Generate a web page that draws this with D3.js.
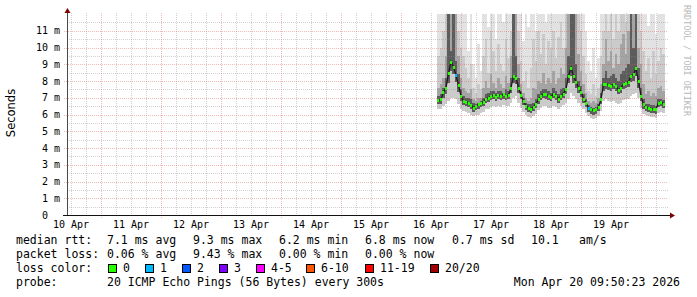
<!DOCTYPE html>
<html><head><meta charset="utf-8">
<script src="https://cdn.jsdelivr.net/npm/d3@7"></script>
<style>body{margin:0;background:#fff}svg{display:block}text{white-space:pre}</style>
</head><body><svg id="c" width="697" height="297"></svg>
<script>
// ---- data ----
const startTime = Date.UTC(2026, 3, 10, 10, 24);
const endTime   = Date.UTC(2026, 3, 20, 10, 24);
const dataStart = Date.UTC(2026, 3, 16, 15, 0);
const stepHours = 1;
const yTicks = [0,1,2,3,4,5,6,7,8,9,10,11];
const yTickLabels = ["0  ","1 m","2 m","3 m","4 m","5 m","6 m","7 m","8 m","9 m","10 m","11 m"];
const dayLabels = ["10 Apr","11 Apr","12 Apr","13 Apr","14 Apr","15 Apr","16 Apr","17 Apr","18 Apr","19 Apr"];
// median rtt (ms)
const median = [
 6.85,6.9,7.35,7.6,8.45,9.15,8.85,8.35,7.75,7.1,
 6.8,6.75,6.7,6.55,6.4,6.5,6.6,6.7,6.75,6.95,
 7.0,7.1,7.15,7.05,7.15,7.1,7.2,7.1,7.15,7.6,
 8.3,8.2,7.6,7.15,6.8,6.5,6.4,6.35,6.45,6.65,
 6.9,7.1,7.25,7.2,7.1,7.05,7.25,7.1,6.95,7.1,
 7.25,7.5,8.3,8.8,8.3,7.95,7.6,7.35,6.95,6.7,
 6.4,6.3,6.25,6.3,6.45,6.9,7.8,7.85,7.75,7.7,
 7.8,7.7,7.45,7.6,7.8,7.9,7.95,8.3,8.4,8.75,
 8.0,7.1,6.6,6.45,6.4,6.35,6.35,6.3,6.7,6.75,
 6.65];
// lost pings out of 20
const lost = [
 0,0,0,0,0,0,0,1,0,0, 0,0,0,0,0,0,0,0,0,0, 0,0,0,0,0,0,0,0,0,0,
 0,0,0,0,0,0,0,0,0,0, 0,0,0,0,0,0,0,0,0,0, 0,0,0,0,0,0,0,0,0,0,
 1,0,0,0,0,0,0,0,0,0, 0,0,0,0,0,0,0,0,0,0, 0,0,0,0,0,0,0,0,0,0, 0];
// smoke: ping distribution (ms)
const smokeMin = [
 6.3,6.35,6.5,6.6,6.8,7.0,7.0,6.9,6.6,6.3,
 6.2,6.15,6.1,6.0,5.9,5.95,6.0,6.1,6.15,6.3,
 6.35,6.45,6.5,6.45,6.5,6.45,6.55,6.5,6.5,6.7,
 7.0,7.1,6.7,6.4,6.15,5.95,5.85,5.8,5.9,6.05,
 6.25,6.4,6.5,6.5,6.4,6.4,6.5,6.45,6.35,6.45,
 6.55,6.7,6.9,7.3,7.1,6.9,6.7,6.5,6.3,6.1,
 5.9,5.8,5.75,5.8,5.9,6.2,6.8,6.9,6.8,6.75,
 6.8,6.7,6.6,6.7,6.85,6.9,6.95,7.1,7.2,7.3,
 7.0,6.4,6.05,5.95,5.9,5.85,5.85,5.8,6.1,6.15,
 6.1];
const smokeLow = [
 6.6,6.65,7.0,7.2,7.9,8.6,8.4,7.95,7.35,6.8,
 6.55,6.5,6.45,6.3,6.15,6.25,6.35,6.45,6.5,6.7,
 6.75,6.85,6.9,6.8,6.9,6.85,6.95,6.85,6.9,7.3,
 7.9,7.85,7.3,6.9,6.55,6.25,6.15,6.1,6.2,6.4,
 6.65,6.85,7.0,6.95,6.85,6.8,7.0,6.85,6.7,6.85,
 7.0,7.25,7.9,8.3,7.9,7.6,7.3,7.05,6.7,6.45,
 6.15,6.05,6.0,6.05,6.2,6.6,7.4,7.5,7.45,7.4,
 7.5,7.4,7.2,7.3,7.5,7.6,7.65,7.95,8.0,8.3,
 7.6,6.8,6.35,6.2,6.15,6.1,6.1,6.05,6.45,6.5,
 6.4];
const smokeUp3 = [
 7.1,7.2,7.6,8.2,12,9.8,12,9.2,8.4,7.5,
 7.1,7.0,7.0,6.9,6.7,6.6,6.7,6.8,7.0,7.2,
 7.3,7.4,7.4,7.3,7.4,7.4,7.3,7.5,7.4,8.2,
 12,9.5,8.2,7.4,7.0,6.7,6.6,6.6,6.7,6.9,
 7.2,7.4,7.5,7.5,7.4,7.3,7.6,7.4,7.2,7.5,
 7.6,8.2,9.5,12,12,9.0,8.0,7.7,7.2,6.9,
 6.55,6.45,6.4,6.45,6.6,7.3,8.2,8.6,8.2,8.3,
 8.4,8.2,8.0,8.4,8.6,8.8,9.0,12,10,12,
 8.8,7.6,6.9,6.65,6.6,6.55,6.55,6.5,6.9,6.95,
 6.85];
const smokeUp2 = [
 7.6,7.8,8.2,9.5,12,12,12,12,9.5,8.2,
 7.6,7.4,7.3,7.5,6.9,6.8,7.0,7.0,7.6,8.0,
 7.6,8.4,7.9,7.6,8.2,7.8,7.6,8.3,7.9,9.5,
 12,12,9.0,7.8,7.3,7.0,6.8,7.0,7.6,7.5,
 8.0,7.9,8.5,7.8,8.2,7.9,8.6,7.8,8.2,8.8,
 8.4,10,12,12,12,12,9.6,8.6,7.8,7.3,
 6.8,6.7,6.8,6.7,7.0,7.8,9.0,10.5,9.2,9.8,
 8.8,9.6,9.0,10.2,10.8,9.6,11,12,12,12,
 10,9.0,7.8,7.2,7.4,7.1,7.3,7.1,7.6,7.7,
 7.4];
const smokeUp1 = [
 9.5,10,11,12,12,12,12,12,11,10,
 9.5,8.8,8.2,9.0,7.6,7.3,7.8,7.5,9.5,10.5,
 8.5,11,9.8,8.6,10.2,9.0,8.6,10.5,9.4,11,
 12,12,11,9.2,8.0,8.6,7.6,8.8,10.5,9.2,
 11,9.6,10.8,9.0,10.4,10,11,9.4,10.6,11.5,
 10,12,12,12,12,12,12,11,9.5,8.4,
 7.4,7.2,7.8,7.1,7.6,9.5,11,12,11,12,
 10.5,12,11,12,12,11.5,12,12,12,12,
 12,11,9.8,8.6,9.4,8.2,9.8,8.4,9.2,10,
 9.6];
const smokeMax = [
 12,12,12,12,12,12,12,12,12,12,
 12,12,9.8,12,9.0,8.2,10.2,8.6,12,12,
 11.2,12,12,10.5,12,12,11.5,12,12,12,
 12,12,12,12,10.4,12,11.2,12,12,11,
 12,12,12,11.5,12,12,12,12,12,12,
 12,12,12,12,12,12,12,12,12,11,
 9.2,8.6,10.0,8.2,9.4,12,12,12,12,12,
 12,12,12,12,12,12,12,12,12,12,
 12,12,12,12,11.3,12,12,10.8,12,12,
 12];
const lossLabels = ["0","1","2","3","4-5","6-10","11-19","20/20"];
const lossColors = ["#26ff00","#00b8ff","#0059ff","#7e00ff","#ff00ff","#ff5500","#ff0000","#a10000"];
const lossUpper  = [0,1,2,3,5,10,19,20];
const statsRtt  = ["7.1 ms avg","9.3 ms max","6.2 ms min","6.8 ms now","0.7 ms sd","10.1","am/s"];
const statsLoss = ["0.06 % avg","9.43 % max","0.00 % min","0.00 % now"];

// ---- drawing ----
const svg = d3.select("#c");
const H = 3600e3;
const x = d3.scaleUtc().domain([startTime, endTime]).range([67, 667]);
const y = d3.scaleLinear().domain([0, 12]).range([215, 14]);
const times = median.map((_, i) => dataStart + i * stepHours * H);
const mono = "'DejaVu Sans Mono', monospace";

// smoke
const smokeG = svg.append("g").attr("shape-rendering", "crispEdges");
const bands = [
  {lo: smokeMin, hi: smokeMax, c: "#e2e2e2"},
  {lo: smokeMin, hi: smokeUp1, c: "#cbcbcb"},
  {lo: smokeLow, hi: smokeUp2, c: "#a4a4a4"},
  {lo: smokeLow, hi: smokeUp3, c: "#5c5c5c"}
];
const colX = t => Math.round(x(t - stepHours * H / 2));
const colW = t => Math.round(x(t + stepHours * H / 2)) - colX(t);
bands.forEach(b => {
  smokeG.selectAll(null).data(times).join("rect")
    .attr("x", t => colX(t)).attr("width", t => colW(t))
    .attr("y", (t, i) => y(b.hi[i])).attr("height", (t, i) => y(b.lo[i]) - y(b.hi[i]))
    .attr("fill", b.c);
});

// grid (drawn over smoke, translucent like rrdtool)
const grid = svg.append("g").attr("shape-rendering", "crispEdges");
const minorY = d3.range(0.5, 12, 1);
grid.selectAll(null).data(minorY).join("line")
  .attr("x1", 67).attr("x2", 668).attr("y1", d => Math.round(y(d)) + 0.5).attr("y2", d => Math.round(y(d)) + 0.5)
  .attr("stroke", "rgba(140,140,140,0.4)").attr("stroke-dasharray", "1,1");
const dayTicks = d3.utcDay.range(startTime, endTime);
const hourTicks = d3.utcHour.every(6).range(startTime, endTime).filter(d => d.getUTCHours() !== 0);
grid.selectAll(null).data(hourTicks).join("line")
  .attr("x1", d => Math.round(x(d)) + 0.5).attr("x2", d => Math.round(x(d)) + 0.5)
  .attr("y1", 13).attr("y2", 217)
  .attr("stroke", "rgba(140,140,140,0.4)").attr("stroke-dasharray", "1,1");
grid.selectAll(null).data(yTicks.slice(1)).join("line")
  .attr("x1", 64).attr("x2", 668).attr("y1", d => Math.round(y(d)) + 0.5).attr("y2", d => Math.round(y(d)) + 0.5)
  .attr("stroke", "rgba(222,80,80,0.38)").attr("stroke-dasharray", "1,1");
grid.selectAll(null).data(dayTicks).join("line")
  .attr("x1", d => Math.round(x(d)) + 0.5).attr("x2", d => Math.round(x(d)) + 0.5)
  .attr("y1", 13).attr("y2", 218)
  .attr("stroke", "rgba(222,80,80,0.38)").attr("stroke-dasharray", "1,1");

// median line + loss coloured marks
svg.append("path").datum(median)
  .attr("d", d3.line().x((d, i) => x(times[i])).y(d => y(d)))
  .attr("fill", "none").attr("stroke", "#1a1a1a").attr("stroke-width", 1.3);
const lossColor = l => lossColors[lossUpper.findIndex(u => l <= u)];
svg.append("g").attr("shape-rendering", "crispEdges")
  .selectAll("rect").data(median).join("rect")
  .attr("x", (d, i) => Math.round(x(times[i])) - 1).attr("width", 2)
  .attr("y", d => Math.round(y(d)) - 1).attr("height", 3)
  .attr("fill", (d, i) => lossColor(lost[i]));

// axes
const ax = svg.append("g");
ax.append("line").attr("x1", 67.5).attr("x2", 67.5).attr("y1", 215).attr("y2", 12)
  .attr("stroke", "#4a4a4a").attr("stroke-width", 1);
ax.append("line").attr("x1", 63).attr("x2", 671).attr("y1", 215.5).attr("y2", 215.5)
  .attr("stroke", "#111").attr("stroke-width", 1);
ax.append("path").attr("d", "M67.5,8 L64.5,13 L70.5,13 Z").attr("fill", "#7f0000");
ax.append("path").attr("d", "M675,215.5 L670,212.5 L670,218.5 Z").attr("fill", "#7f0000");

// y labels
svg.append("g").selectAll("text").data(yTicks).join("text")
  .attr("x", 60).attr("y", d => y(d) + 3.5).attr("text-anchor", "end")
  .attr("font-family", mono).attr("font-size", 10).attr("fill", "#000")
  .text((d, i) => yTickLabels[i]);
// x labels at noon
svg.append("g").selectAll("text").data(dayTicks.map(d => d3.utcHour.offset(d, -12)).filter(d => x(d) >= 60).slice(0, dayLabels.length)).join("text")
  .attr("x", d => x(d)).attr("y", 228).attr("text-anchor", "middle")
  .attr("font-family", mono).attr("font-size", 10).attr("fill", "#000")
  .text((d, i) => dayLabels[i]);

// y title
svg.append("text").attr("transform", "translate(15,113) rotate(-90)")
  .attr("text-anchor", "middle").attr("font-family", "'DejaVu Sans', sans-serif").attr("font-size", 11.5)
  .attr("fill", "#000").text("Seconds");
// watermark
svg.append("text").attr("transform", "translate(684,5) rotate(90)")
  .attr("font-family", mono).attr("font-size", 8.4).attr("fill", "#b8b8b8")
  .text("RRDTOOL / TOBI OETIKER");

// legend
const lg = svg.append("g").attr("font-family", mono).attr("font-size", 11.5).attr("fill", "#000");
const rttX = [107, 193, 279, 365, 452, 531, 579];
lg.append("text").attr("x", 16).attr("y", 244).text("median rtt:");
lg.selectAll(null).data(statsRtt).join("text").attr("x", (d, i) => rttX[i]).attr("y", 244).text(d => d);
lg.append("text").attr("x", 16).attr("y", 258).text("packet loss:");
lg.selectAll(null).data(statsLoss).join("text").attr("x", (d, i) => rttX[i]).attr("y", 258).text(d => d);
lg.append("text").attr("x", 16).attr("y", 272).text("loss color:");
const boxX = [108.5, 145.5, 182.5, 219.5, 256.5, 306.5, 365.5, 430.5];
const lossItems = lg.selectAll("g.li").data(lossLabels).join("g").attr("class", "li");
lossItems.append("rect").attr("x", (d, i) => boxX[i]).attr("y", 264.5).attr("width", 8).attr("height", 8)
  .attr("fill", (d, i) => lossColors[i]).attr("stroke", "#000").attr("stroke-width", 1);
lossItems.append("text").attr("x", (d, i) => boxX[i] + 14.5).attr("y", 272).text(d => d);
lg.append("text").attr("x", 16).attr("y", 286).text("probe:");
lg.append("text").attr("x", 107).attr("y", 286).text("20 ICMP Echo Pings (56 Bytes) every 300s");
lg.append("text").attr("x", 680).attr("y", 286).attr("text-anchor", "end").text("Mon Apr 20 09:50:23 2026");
</script></body></html>
